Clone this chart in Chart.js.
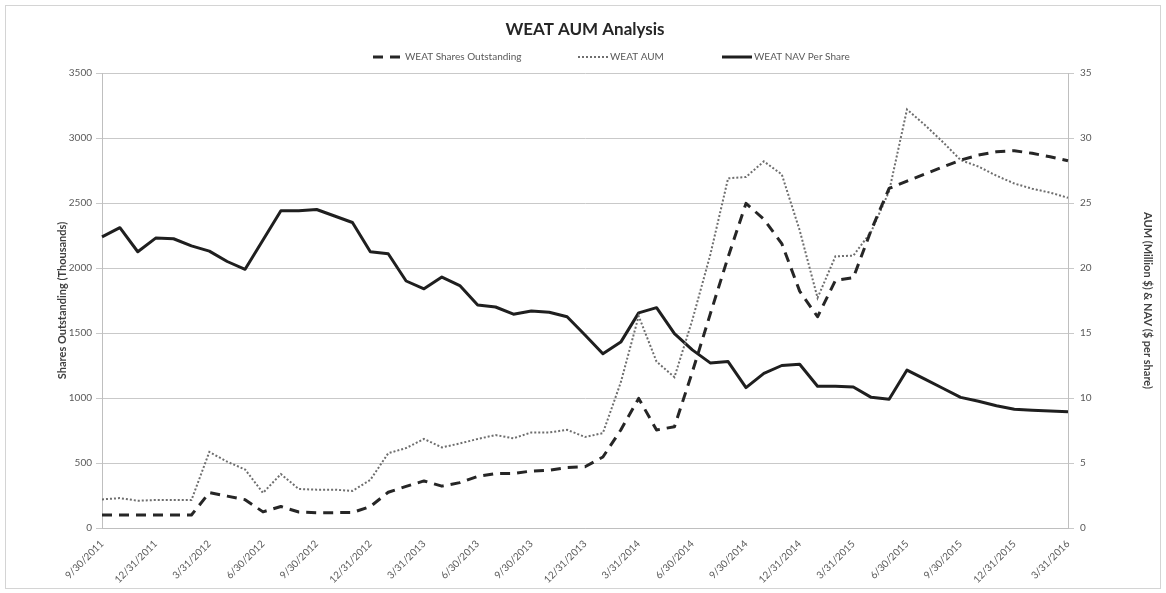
<!DOCTYPE html>
<html>
<head>
<meta charset="utf-8">
<script src="https://cdn.jsdelivr.net/npm/chart.js@4"></script>
<style>
html,body{margin:0;padding:0;background:#fff;}
#wrap{width:1166px;height:593px;position:relative;}
canvas{display:block;}
</style>
</head>
<body>
<div id="wrap"><canvas id="c" width="1166" height="593"></canvas></div>
<script>
// ---- data ----
const months = [
  "9/30/2011","10/31/2011","11/30/2011","12/31/2011",
  "1/31/2012","2/29/2012","3/31/2012","4/30/2012","5/31/2012","6/30/2012","7/31/2012","8/31/2012","9/30/2012","10/31/2012","11/30/2012","12/31/2012",
  "1/31/2013","2/28/2013","3/31/2013","4/30/2013","5/31/2013","6/30/2013","7/31/2013","8/31/2013","9/30/2013","10/31/2013","11/30/2013","12/31/2013",
  "1/31/2014","2/28/2014","3/31/2014","4/30/2014","5/31/2014","6/30/2014","7/31/2014","8/31/2014","9/30/2014","10/31/2014","11/30/2014","12/31/2014",
  "1/31/2015","2/28/2015","3/31/2015","4/30/2015","5/31/2015","6/30/2015","7/31/2015","8/31/2015","9/30/2015","10/31/2015","11/30/2015","12/31/2015",
  "1/31/2016","2/29/2016","3/31/2016"
];
const xTickLabels = [
  "9/30/2011","12/31/2011","3/31/2012","6/30/2012","9/30/2012","12/31/2012",
  "3/31/2013","6/30/2013","9/30/2013","12/31/2013","3/31/2014","6/30/2014",
  "9/30/2014","12/31/2014","3/31/2015","6/30/2015","9/30/2015","12/31/2015","3/31/2016"
];
const sharesOutstanding = [
  100,100,100,100,100,100,272,245,218,124,165,123,118,118,119,165,
  275,320,362,322,349,397,418,420,438,444,465,471,546,754,997,754,
  779,1200,1645,2085,2497,2375,2188,1822,1625,1905,1925,2292,2612,2669,
  2723,2777,2830,2869,2894,2902,2882,2856,2825
];
const aumMillions = [
  2.2,2.3,2.1,2.15,2.15,2.15,5.85,5.1,4.5,2.7,4.15,3.0,2.95,2.95,2.85,3.7,
  5.75,6.15,6.85,6.2,6.5,6.85,7.15,6.9,7.35,7.35,7.55,7.0,7.3,11.2,16.3,12.8,
  11.6,16.0,21.0,26.9,27.0,28.2,27.2,22.9,17.7,20.9,20.95,22.8,25.9,32.2,
  31.0,29.7,28.3,27.8,27.1,26.5,26.1,25.8,25.4
];
const navPerShare = [
  22.4,23.1,21.25,22.3,22.25,21.7,21.3,20.5,19.9,22.15,24.4,24.4,24.5,24.0,23.5,21.25,
  21.1,19.0,18.4,19.3,18.65,17.15,17.0,16.45,16.7,16.6,16.25,14.85,13.4,14.3,16.55,16.95,
  14.95,13.7,12.7,12.8,10.8,11.9,12.5,12.6,10.9,10.9,10.85,10.05,9.9,12.15,
  11.45,10.75,10.05,9.75,9.4,9.13,9.05,9.0,8.95
];
const seriesNames = ["WEAT Shares Outstanding","WEAT AUM","WEAT NAV Per Share"];

// ---- styling ----
const FONT = "Lato, 'Open Sans', 'DejaVu Sans', sans-serif";
const TEXT = "#595959";
const GRID = "#c9c9c9";

const framePlugin = {
  id: 'frame',
  beforeDraw(chart) {
    const ctx = chart.ctx;
    ctx.save();
    ctx.fillStyle = '#fff';
    ctx.fillRect(0, 0, chart.width, chart.height);
    ctx.strokeStyle = '#d4d4d4';
    ctx.lineWidth = 1;
    ctx.strokeRect(5.5, 5.5, chart.width - 11, chart.height - 10);
    ctx.restore();
  }
};

const legendPlugin = {
  id: 'manualLegend',
  afterDraw(chart, args, opts) {
    const ctx = chart.ctx;
    ctx.save();
    ctx.font = opts.fontSize + 'px ' + FONT;
    ctx.textBaseline = 'middle';
    ctx.textAlign = 'left';
    chart.data.datasets.forEach((ds, i) => {
      const x0 = opts.itemX[i];
      const y = opts.y;
      ctx.beginPath();
      ctx.setLineDash(ds.borderDash || []);
      ctx.lineWidth = ds.borderWidth;
      ctx.strokeStyle = ds.borderColor;
      ctx.moveTo(x0, y);
      ctx.lineTo(x0 + opts.sampleWidth, y);
      ctx.stroke();
      ctx.setLineDash([]);
      ctx.fillStyle = TEXT;
      ctx.fillText(ds.label, x0 + opts.sampleWidth + 2, y);
    });
    ctx.restore();
  }
};

new Chart(document.getElementById('c'), {
  type: 'line',
  data: {
    labels: months,
    datasets: [
      {
        label: seriesNames[0],
        data: sharesOutstanding,
        yAxisID: 'y',
        borderColor: '#262626',
        borderWidth: 3,
        borderDash: [10, 7],
        borderJoinStyle: 'round',
        pointRadius: 0,
        tension: 0,
        fill: false
      },
      {
        label: seriesNames[1],
        data: aumMillions,
        yAxisID: 'y1',
        borderColor: '#6e6e6e',
        borderWidth: 2,
        borderDash: [2, 2],
        pointRadius: 0,
        tension: 0,
        fill: false
      },
      {
        label: seriesNames[2],
        data: navPerShare,
        yAxisID: 'y1',
        borderColor: '#1f1f1f',
        borderWidth: 3,
        borderJoinStyle: 'round',
        pointRadius: 0,
        tension: 0,
        fill: false
      }
    ]
  },
  options: {
    responsive: false,
    animation: false,
    devicePixelRatio: 1,
    layout: { padding: { left: 56, right: 12, top: 0, bottom: 7 } },
    plugins: {
      legend: { display: false },
      tooltip: { enabled: false },
      title: {
        display: true,
        fullSize: false,
        text: 'WEAT AUM Analysis',
        color: '#262626',
        font: { family: FONT, size: 17, weight: 'bold' },
        padding: { top: 19, bottom: 33.6 }
      },
      manualLegend: {
        itemX: [373, 578, 722],
        y: 57,
        sampleWidth: 30,
        fontSize: 10
      }
    },
    scales: {
      x: {
        type: 'category',
        offset: false,
        grid: { display: false },
        border: { display: true, color: '#bfbfbf' },
        ticks: {
          autoSkip: false,
          maxRotation: 45,
          minRotation: 45,
          padding: 2,
          color: TEXT,
          font: { family: FONT, size: 10 },
          callback: function(value, index) {
            const lbl = months[index];
            return xTickLabels.includes(lbl) ? lbl : null;
          }
        },
        afterFit(scale) { scale.height = 58; }
      },
      y: {
        position: 'left',
        min: 0,
        max: 3500,
        ticks: {
          stepSize: 500, padding: 4, color: TEXT, font: { family: FONT, size: 10 },
          callback: (v) => String(v)
        },
        grid: { color: GRID, lineWidth: 1, tickLength: 6 },
        border: { color: '#bfbfbf' },
        title: {
          display: true,
          text: 'Shares Outstanding (Thousands)',
          color: '#404040',
          font: { family: FONT, size: 11, weight: 'bold' },
          padding: 0
        },
        afterFit(scale) { scale.width = 46; }
      },
      y1: {
        position: 'right',
        min: 0,
        max: 35,
        ticks: {
          stepSize: 5, padding: 6, color: TEXT, font: { family: FONT, size: 10 },
          callback: (v) => String(v)
        },
        grid: { drawOnChartArea: false, color: GRID, tickLength: 6 },
        border: { color: '#bfbfbf' },
        title: {
          display: true,
          text: 'AUM (Million $) & NAV ($ per share)',
          color: '#404040',
          font: { family: FONT, size: 11, weight: 'bold' },
          padding: 0
        },
        afterFit(scale) { scale.width = 86; }
      }
    }
  },
  plugins: [framePlugin, legendPlugin]
});
</script>
</body>
</html>
